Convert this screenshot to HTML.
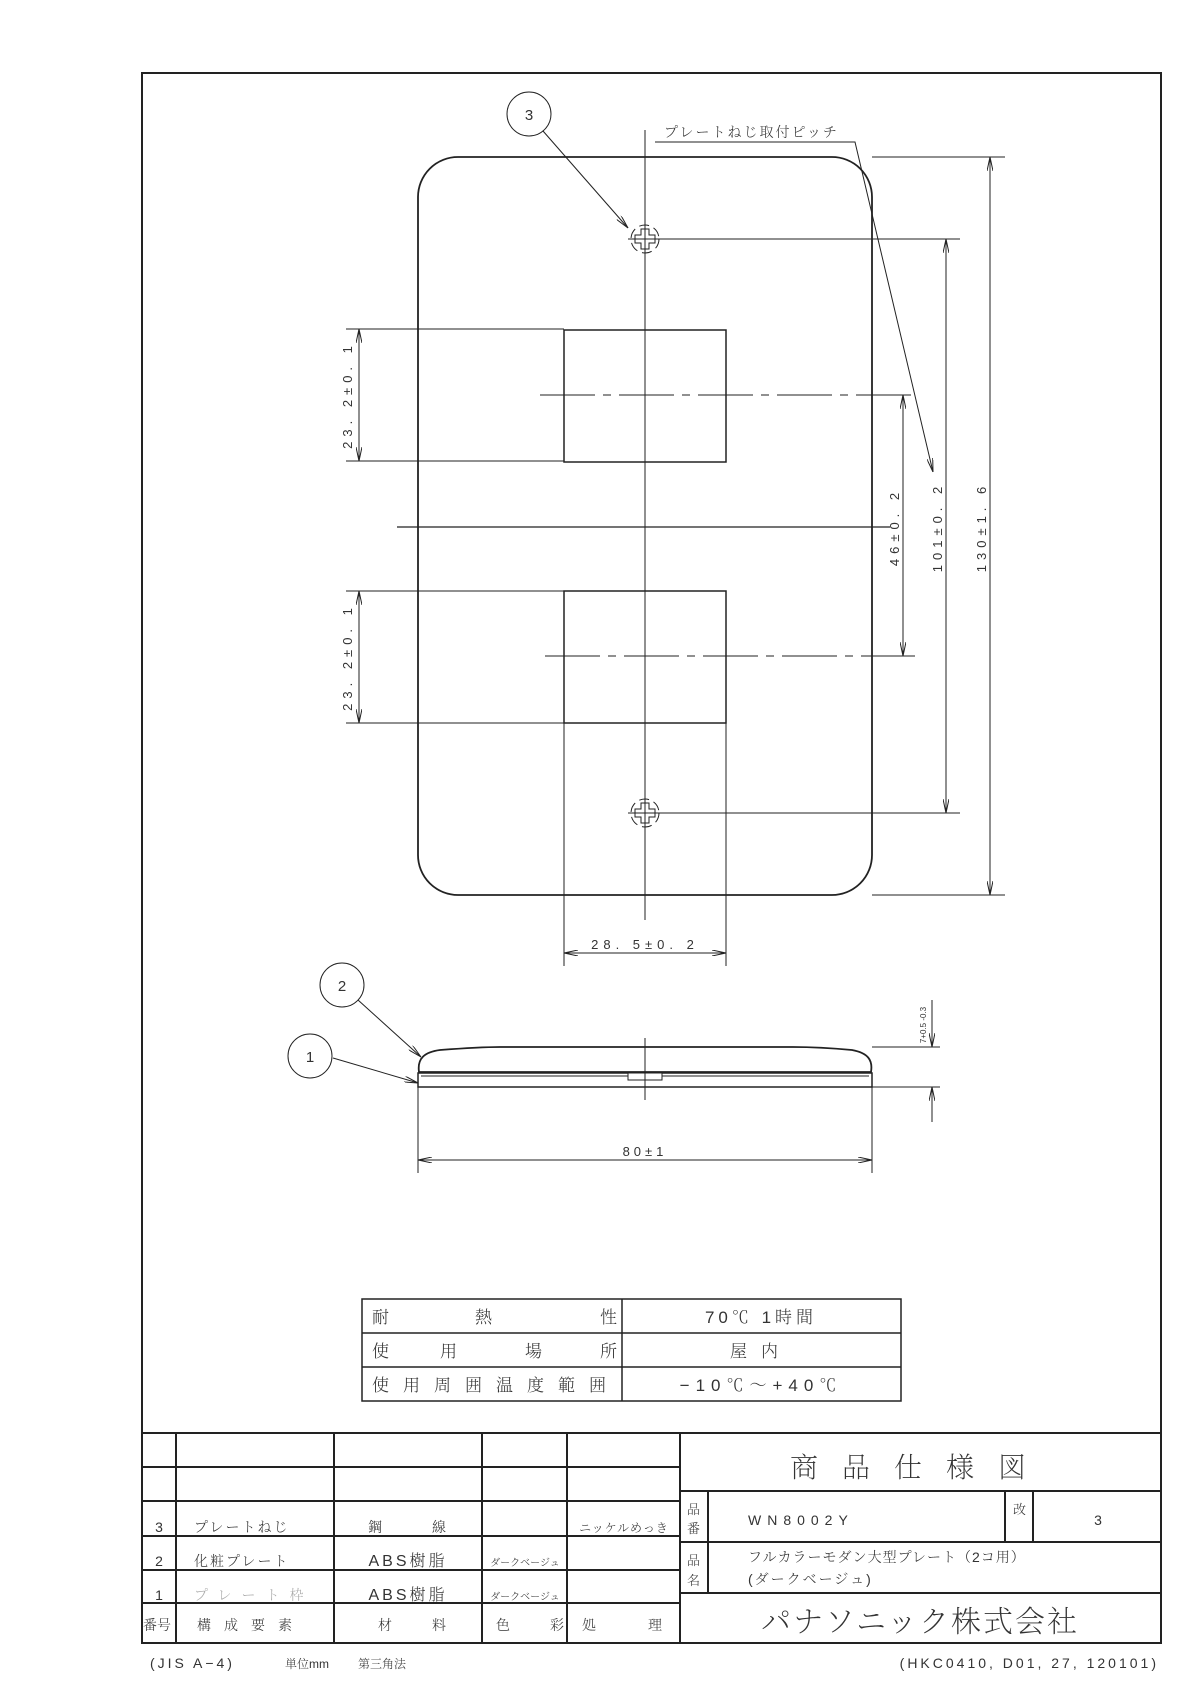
<!DOCTYPE html>
<html><head><meta charset="utf-8">
<style>
html,body{margin:0;padding:0;background:#fff}
svg{display:block}
text{font-family:"Liberation Sans","Noto Serif CJK SC",serif;fill:#333;font-weight:300}
</style></head><body>
<svg width="1190" height="1684" viewBox="0 0 1190 1684" xmlns="http://www.w3.org/2000/svg">
<defs>
<marker id="a" viewBox="0 0 14 6" refX="14" refY="3" markerWidth="14" markerHeight="6" markerUnits="userSpaceOnUse" orient="auto-start-reverse">
<path d="M0,0 L14,3 L0,6" fill="none" stroke="#222" stroke-width="1"/></marker>
</defs>
<g fill="none" stroke="#222">
<rect x="142" y="73" width="1019" height="1570" stroke-width="2"/>
<rect x="418" y="157" width="454" height="738" rx="40" ry="40" stroke-width="1.8"/>
<rect x="564" y="330" width="162" height="132" stroke-width="1.5"/>
<rect x="564" y="591" width="162" height="132" stroke-width="1.5"/>
<line x1="645" y1="130" x2="645" y2="920" stroke-width="1"/>
<line x1="397" y1="527" x2="890" y2="527" stroke-width="1.2"/>
<line x1="540" y1="395" x2="915" y2="395" stroke-width="1" stroke-dasharray="55,8,8,8"/>
<line x1="545" y1="656" x2="915" y2="656" stroke-width="1" stroke-dasharray="55,8,8,8"/>
<g stroke-width="1">
<line x1="628" y1="239" x2="960" y2="239"/>
<circle cx="645" cy="239" r="14" stroke-dasharray="10,5"/>
<path d="M641,229 h8 v6 h6 v8 h-6 v6 h-8 v-6 h-6 v-8 h6 z"/>
<line x1="628" y1="813" x2="960" y2="813"/>
<circle cx="645" cy="813" r="14" stroke-dasharray="10,5"/>
<path d="M641,803 h8 v6 h6 v8 h-6 v6 h-8 v-6 h-6 v-8 h6 z"/>
</g>
<g stroke-width="1">
<line x1="872" y1="157" x2="1005" y2="157"/>
<line x1="872" y1="895" x2="1005" y2="895"/>
<line x1="990" y1="157" x2="990" y2="895" marker-start="url(#a)" marker-end="url(#a)"/>
<line x1="946" y1="239" x2="946" y2="813" marker-start="url(#a)" marker-end="url(#a)"/>
<line x1="903" y1="395" x2="903" y2="656" marker-start="url(#a)" marker-end="url(#a)"/>
<polyline points="655,142 855,142 933,472" marker-end="url(#a)"/>
<line x1="346" y1="329" x2="564" y2="329"/>
<line x1="346" y1="461" x2="564" y2="461"/>
<line x1="359" y1="329" x2="359" y2="461" marker-start="url(#a)" marker-end="url(#a)"/>
<line x1="346" y1="591" x2="564" y2="591"/>
<line x1="346" y1="723" x2="564" y2="723"/>
<line x1="359" y1="591" x2="359" y2="723" marker-start="url(#a)" marker-end="url(#a)"/>
<line x1="564" y1="723" x2="564" y2="966"/>
<line x1="726" y1="723" x2="726" y2="966"/>
<line x1="564" y1="953" x2="726" y2="953" marker-start="url(#a)" marker-end="url(#a)"/>
<circle cx="529" cy="114" r="22"/>
<line x1="543" y1="131" x2="628" y2="228" marker-end="url(#a)"/>
<circle cx="342" cy="985" r="22"/>
<line x1="358" y1="1000" x2="421" y2="1057" marker-end="url(#a)"/>
<circle cx="310" cy="1056" r="22"/>
<line x1="333" y1="1058" x2="418" y2="1083" marker-end="url(#a)"/>
</g>
<path d="M419,1072 C417,1058 425,1052 440,1050 Q480,1047 500,1047 L793,1047 Q820,1047 852,1050 C868,1053 873,1060 871,1072 Z" stroke-width="1.8"/>
<rect x="418" y="1073" width="454" height="14" stroke-width="1.5"/>
<line x1="421" y1="1076" x2="869" y2="1076" stroke-width="1"/>
<rect x="628" y="1073" width="34" height="7" fill="#fff" stroke-width="1"/>
<line x1="645" y1="1038" x2="645" y2="1100" stroke-width="1"/>
<line x1="872" y1="1047" x2="940" y2="1047" stroke-width="1"/>
<line x1="872" y1="1087" x2="940" y2="1087" stroke-width="1"/>
<line x1="932" y1="1000" x2="932" y2="1047" stroke-width="1" marker-end="url(#a)"/>
<line x1="932" y1="1122" x2="932" y2="1087" stroke-width="1" marker-end="url(#a)"/>
<line x1="418" y1="1087" x2="418" y2="1173" stroke-width="1"/>
<line x1="872" y1="1087" x2="872" y2="1173" stroke-width="1"/>
<line x1="418" y1="1160" x2="872" y2="1160" stroke-width="1" marker-start="url(#a)" marker-end="url(#a)"/>
<g stroke-width="1.5">
<rect x="362" y="1299" width="539" height="102"/>
<line x1="362" y1="1333" x2="901" y2="1333"/>
<line x1="362" y1="1367" x2="901" y2="1367"/>
<line x1="622" y1="1299" x2="622" y2="1401"/>
</g>
<g stroke-width="2">
<line x1="142" y1="1433" x2="1161" y2="1433"/>
<line x1="142" y1="1467" x2="680" y2="1467"/>
<line x1="142" y1="1501" x2="680" y2="1501"/>
<line x1="142" y1="1536" x2="680" y2="1536"/>
<line x1="142" y1="1570" x2="680" y2="1570"/>
<line x1="142" y1="1603" x2="680" y2="1603"/>
<line x1="176" y1="1433" x2="176" y2="1643"/>
<line x1="334" y1="1433" x2="334" y2="1643"/>
<line x1="482" y1="1433" x2="482" y2="1643"/>
<line x1="567" y1="1433" x2="567" y2="1643"/>
<line x1="680" y1="1433" x2="680" y2="1643"/>
<line x1="680" y1="1491" x2="1161" y2="1491"/>
<line x1="680" y1="1542" x2="1161" y2="1542"/>
<line x1="680" y1="1593" x2="1161" y2="1593"/>
<line x1="708" y1="1491" x2="708" y2="1593"/>
<line x1="1005" y1="1491" x2="1005" y2="1542"/>
<line x1="1033" y1="1491" x2="1033" y2="1542"/>
</g>
</g>
<g font-size="13">
<text x="529" y="120" text-anchor="middle" font-size="15">3</text>
<text x="342" y="991" text-anchor="middle" font-size="15">2</text>
<text x="310" y="1062" text-anchor="middle" font-size="15">1</text>
<text x="664" y="137" font-size="14" letter-spacing="2">プレートねじ取付ピッチ</text>
<text x="645" y="949" text-anchor="middle" letter-spacing="5">28. 5±0. 2</text>
<text x="645" y="1156" text-anchor="middle" letter-spacing="4">80±1</text>
<text transform="translate(352,395) rotate(-90)" text-anchor="middle" letter-spacing="5">23. 2±0. 1</text>
<text transform="translate(352,657) rotate(-90)" text-anchor="middle" letter-spacing="5">23. 2±0. 1</text>
<text transform="translate(899,527) rotate(-90)" text-anchor="middle" letter-spacing="5">46±0. 2</text>
<text transform="translate(942,527) rotate(-90)" text-anchor="middle" letter-spacing="5">101±0. 2</text>
<text transform="translate(986,527) rotate(-90)" text-anchor="middle" letter-spacing="5">130±1. 6</text>
<text transform="translate(926,1025) rotate(-90)" text-anchor="middle" font-size="8">7+0.5 -0.3</text>
</g>
<g font-size="17">
<text x="372" y="1323">耐</text><text x="475" y="1323">熱</text><text x="600" y="1323">性</text>
<text x="372" y="1357">使</text><text x="440" y="1357">用</text><text x="525" y="1357">場</text><text x="600" y="1357">所</text>
<text x="372" y="1391" letter-spacing="14">使用周囲温度範囲</text>
<text x="761" y="1323" text-anchor="middle" letter-spacing="4">70℃ 1時間</text>
<text x="761" y="1357" text-anchor="middle" letter-spacing="14">屋内</text>
<text x="761" y="1391" text-anchor="middle" letter-spacing="6">−10℃〜+40℃</text>
</g>
<g font-size="14">
<text x="159" y="1532" text-anchor="middle">3</text>
<text x="159" y="1566" text-anchor="middle">2</text>
<text x="159" y="1600" text-anchor="middle">1</text>
<text x="194" y="1532" letter-spacing="2">プレートねじ</text>
<text x="194" y="1566" letter-spacing="2">化粧プレート</text>
<text x="194" y="1600" letter-spacing="10" style="fill:#aaa">プレート枠</text>
<text x="368" y="1532">鋼</text><text x="432" y="1532">線</text>
<text x="408" y="1566" text-anchor="middle" font-size="16" letter-spacing="3">ABS樹脂</text>
<text x="408" y="1600" text-anchor="middle" font-size="16" letter-spacing="3">ABS樹脂</text>
<text x="525" y="1566" text-anchor="middle" font-size="10">ダークベージュ</text>
<text x="525" y="1600" text-anchor="middle" font-size="10">ダークベージュ</text>
<text x="624" y="1532" text-anchor="middle" font-size="12" letter-spacing="1">ニッケルめっき</text>
<text x="143" y="1630" font-size="14">番号</text>
<text x="197" y="1630" letter-spacing="13">構成要素</text>
<text x="378" y="1630">材</text><text x="432" y="1630">料</text>
<text x="496" y="1630">色</text><text x="550" y="1630">彩</text>
<text x="582" y="1630">処</text><text x="648" y="1630">理</text>
<text x="687" y="1514" font-size="13">品</text><text x="687" y="1533" font-size="13">番</text>
<text x="687" y="1565" font-size="13">品</text><text x="687" y="1585" font-size="13">名</text>
<text x="748" y="1525" letter-spacing="6">WN8002Y</text>
<text x="1013" y="1514" font-size="13">改</text>
<text x="1098" y="1525" text-anchor="middle">3</text>
<text x="748" y="1562" letter-spacing="1">フルカラーモダン大型プレート（2コ用）</text>
<text x="748" y="1584" letter-spacing="2">(ダークベージュ)</text>
<text x="920" y="1477" text-anchor="middle" font-size="28" letter-spacing="24" style="font-weight:200">商品仕様図</text>
<text x="920" y="1632" text-anchor="middle" font-size="30" letter-spacing="2" style="font-weight:200">パナソニック株式会社</text>
<text x="150" y="1668" letter-spacing="3">(JIS A−4)</text>
<text x="285" y="1668" font-size="12">単位mm</text>
<text x="358" y="1668" font-size="12">第三角法</text>
<text x="1159" y="1668" text-anchor="end" letter-spacing="3">(HKC0410, D01, 27, 120101)</text>
</g>
</svg>
</body></html>
